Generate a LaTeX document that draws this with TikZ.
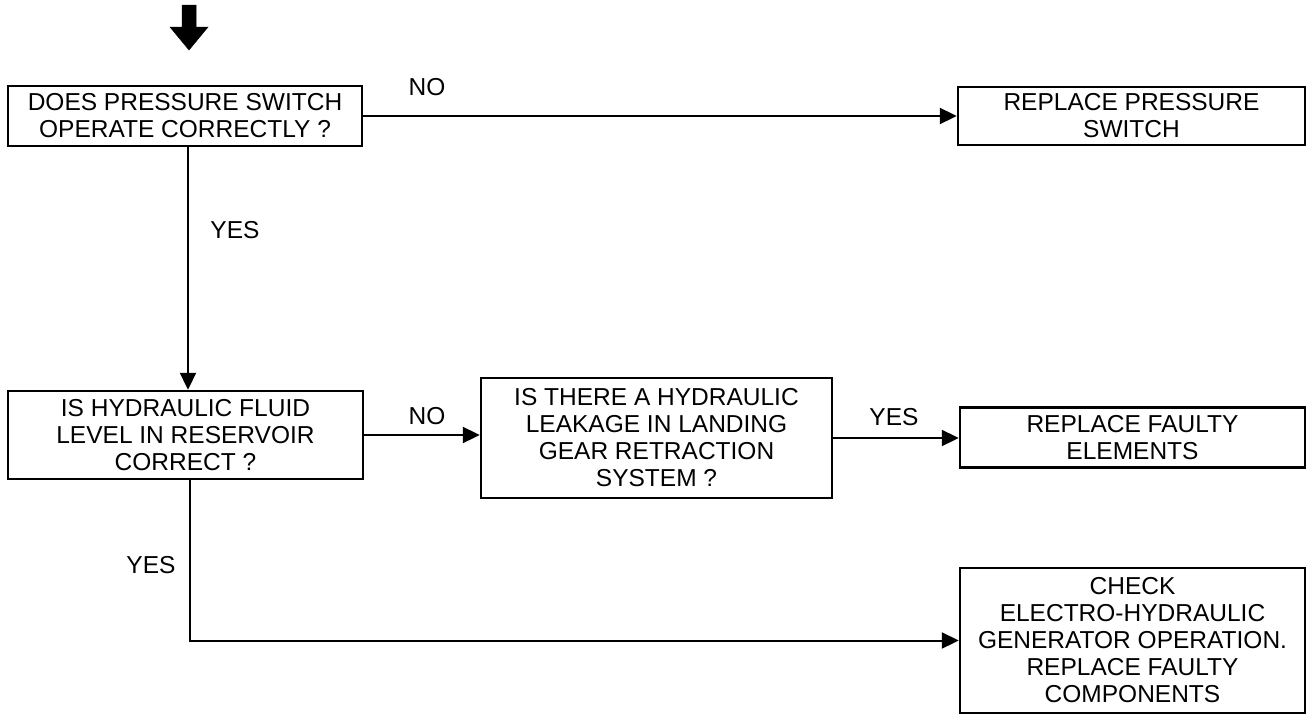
\documentclass[tikz,border=0pt]{standalone}
\usepackage{fontspec}
\setmainfont{Liberation Sans}
\usetikzlibrary{arrows.meta,calc}
\begin{document}
\begin{tikzpicture}[x=1pt,y=-1pt,
  box/.style={draw, line width=2.4pt, rectangle, align=center, inner sep=0pt,
              font=\fontsize{24.5}{27}\selectfont},
  lbl/.style={font=\fontsize{24.5}{27}\selectfont, inner sep=0pt},
  conn/.style={line width=2pt, -{Triangle[length=17pt,width=16pt]}},
  entry/.style={fill=black, draw=black, line width=0.5pt}]
\useasboundingbox (0,0) rectangle (1307,715);

% entry block arrow
\filldraw[entry] (182,5) -- (196,5) -- (196,27) -- (208,27) -- (189,50) -- (170,27) -- (182,27) -- cycle;

\node[box, minimum width=354pt, minimum height=60pt] (b1) at (185,116)
  {DOES PRESSURE SWITCH\\OPERATE CORRECTLY ?};
\node[box, minimum width=347pt, minimum height=58pt] (b2) at (1131.5,116)
  {REPLACE PRESSURE\\SWITCH};
\node[box, minimum width=355pt, minimum height=88pt] (b3) at (185.5,435)
  {IS HYDRAULIC FLUID\\LEVEL IN RESERVOIR\\CORRECT ?};
\node[box, minimum width=351pt, minimum height=120pt] (b4) at (656.5,438)
  {IS THERE A HYDRAULIC\\LEAKAGE IN LANDING\\GEAR RETRACTION\\SYSTEM ?};
\node[box, minimum width=345pt, minimum height=60pt] (b5) at (1132.5,437.5)
  {REPLACE FAULTY\\ELEMENTS};
\node[box, minimum width=345pt, minimum height=145pt] (b6) at (1132.5,640.5)
  {CHECK\\ELECTRO-HYDRAULIC\\GENERATOR OPERATION.\\REPLACE FAULTY\\COMPONENTS};

\draw[conn] (b1.east) -- (b2.west);
\draw[conn] ($(b1.south)+(3,0)$) -- ($(b3.north)+(2.5,0)$);
\draw[conn] (b3.east) -- (b3.east -| b4.west);
\draw[conn] (b4.east) -- (b4.east -| b5.west);
\draw[conn] ($(b3.south)+(4.5,0)$) |- (b6.west);

\node[lbl] (no1) at (427,87) {NO};
\node[lbl] (yes1) at (235,230) {YES};
\node[lbl] (no2) at (427,416) {NO};
\node[lbl] (yes2) at (894,417) {YES};
\node[lbl] (yes3) at (151,565) {YES};
\end{tikzpicture}
\end{document}
